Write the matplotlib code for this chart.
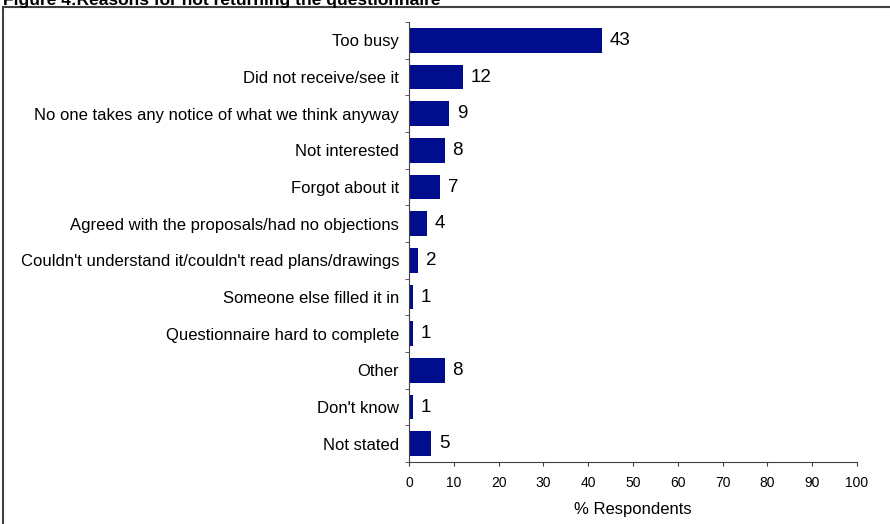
import matplotlib.pyplot as plt
from matplotlib.patches import Rectangle
from matplotlib.ticker import FixedLocator, NullFormatter

plt.rcParams['font.family'] = ['Liberation Sans', 'DejaVu Sans']

# Reasons for not returning the questionnaire
reasons = ["Too busy",
           "Did not receive/see it",
           "No one takes any notice of what we think anyway",
           "Not interested",
           "Forgot about it",
           "Agreed with the proposals/had no objections",
           "Couldn't understand it/couldn't read plans/drawings",
           "Someone else filled it in",
           "Questionnaire hard to complete",
           "Other",
           "Don't know",
           "Not stated"]
percent = [43, 12, 9, 8, 7, 4, 2, 1, 1, 8, 1, 5]
x_ticks = [0, 10, 20, 30, 40, 50, 60, 70, 80, 90, 100]

fig = plt.figure(figsize=(8.9, 5.24), dpi=100)
ax = fig.add_axes([409/890, 1 - 462/524, (857 - 409)/890, (462 - 22)/524])

pos = list(range(len(reasons)))
ax.barh(pos, percent, height=0.68, color='#000E8E')
for p, v in zip(pos, percent):
    ax.text(v + 1.7, p, str(v), va='center', ha='left', fontsize=13.5)

ax.set_ylim(len(reasons) - 0.5, -0.5)
ax.set_xlim(0, 100)
ax.set_xticks(x_ticks)
ax.tick_params(axis='x', labelsize=10, length=3, pad=7, direction='out', color='#404040')

# category labels at centres, tick marks between categories
ax.set_yticks(pos)
ax.set_yticklabels(reasons, fontsize=12)
ax.tick_params(axis='y', which='major', length=0, pad=7)
ax.yaxis.set_minor_locator(FixedLocator([i - 0.5 for i in range(len(reasons) + 1)]))
ax.yaxis.set_minor_formatter(NullFormatter())
ax.tick_params(axis='y', which='minor', length=3, direction='out', color='#404040')

for s in ['top', 'right']:
    ax.spines[s].set_visible(False)
ax.spines['left'].set_color('#404040')
ax.spines['bottom'].set_color('#404040')
ax.set_xlabel("% Respondents", fontsize=12, labelpad=8.5)

# outer frame and (cropped) figure title
fig.patches.append(Rectangle((3/890, -0.1), 1.1, 1 - 7/524 + 0.1, transform=fig.transFigure,
                             fill=False, edgecolor='#404040', linewidth=1.5))
fig.text(3/890, 1 - 5/524, "Figure 4:Reasons for not returning the questionnaire",
         fontsize=12.5, fontweight='bold', ha='left', va='baseline')

fig.savefig('out.png', dpi=100)
